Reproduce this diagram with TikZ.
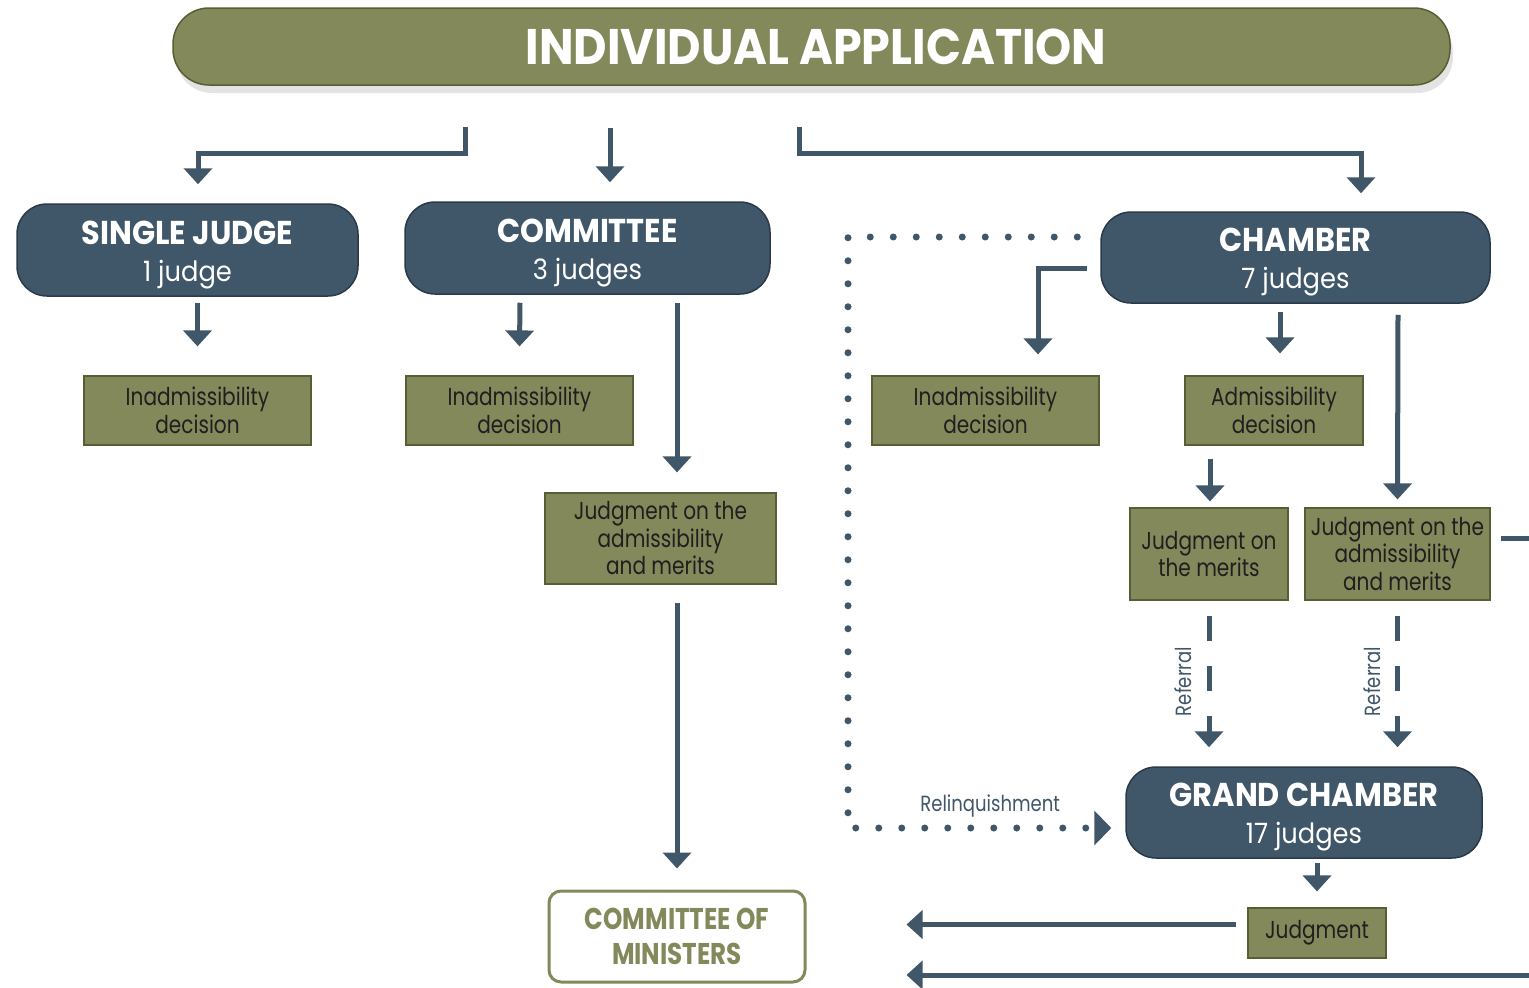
\documentclass[tikz,border=0pt]{standalone}
\usepackage{fontspec}
\setmainfont{Poppins}[FakeStretch=0.82]
\newfontfamily\widefont{Poppins}[FakeStretch=0.92]
\usepackage{tikz}
\usetikzlibrary{arrows.meta,shadows}
\usepackage{color}
\definecolor{olive}{RGB}{131,137,90}
\definecolor{olivedark}{RGB}{88,93,52}
\definecolor{slate}{RGB}{64,86,105}
\definecolor{slatedark}{RGB}{42,58,73}
\newcommand{\courttitle}[1]{\rule{0pt}{33pt}{\fontsize{33}{37}\selectfont\bfseries #1}}

\begin{document}
\begin{tikzpicture}[x=1pt,y=-1pt,
  court/.style={rectangle,rounded corners=30pt,draw=slatedark,line width=1.5pt,fill=slate,text=white,align=center,inner sep=0pt,font=\widefont\fontsize{28}{37}\selectfont},
  outcome/.style={rectangle,draw=olivedark,line width=1.2pt,fill=olive,text=black!88,align=center,inner sep=0pt,font=\fontsize{24.5}{27.5}\selectfont},
  flow/.style={draw=slate,line width=5pt,-{Triangle[width=28pt,length=16pt]}},
  referral/.style={flow,dash pattern=on 25pt off 25pt},
  relinq/.style={draw=slate,line width=7pt,line cap=round,dash pattern=on 0pt off 23pt,-{Triangle[width=34pt,length=17pt]}},
  note/.style={text=slate,inner sep=0pt,font=\fontsize{22}{25}\selectfont}]
\useasboundingbox (0,0) rectangle (1529,988);

% application banner
\node [rectangle,rounded corners=36pt,draw=olivedark,line width=1.5pt,fill=olive,
  drop shadow={shadow xshift=3pt,shadow yshift=-8pt,opacity=0.22},
  minimum width=1277pt,minimum height=77pt,text=white,
  font=\widefont\fontsize{50}{56}\selectfont\bfseries] (app) at (811.5,46.5) {\hspace{9pt}INDIVIDUAL APPLICATION};

% formations
\node [court,minimum width=341pt,minimum height=92pt] (sj) at (187.5,250) {\courttitle{SINGLE JUDGE}\\1 judge};
\node [court,minimum width=365pt,minimum height=92pt] (com) at (587.5,248) {\courttitle{COMMITTEE}\\3 judges};
\node [court,minimum width=389pt,minimum height=91pt] (ch) at (1295.5,257.5) {\courttitle{CHAMBER}\\7 judges};
\node [court,minimum width=356pt,minimum height=91pt] (gc) at (1304,812.5) {\courttitle{GRAND CHAMBER}\\17 judges};

% decisions
\node [outcome,minimum width=227pt,minimum height=69pt] (in1) at (197.5,410.5) {Inadmissibility\\decision};
\node [outcome,minimum width=227pt,minimum height=69pt] (in2) at (519.5,410.5) {Inadmissibility\\decision};
\node [outcome,minimum width=231pt,minimum height=91pt] (jam) at (660.5,538.5) {Judgment on the\\admissibility\\and merits};
\node [outcome,minimum width=227pt,minimum height=69pt] (in3) at (985.5,410.5) {Inadmissibility\\decision};
\node [outcome,minimum width=178pt,minimum height=69pt] (adm) at (1274,410.5) {Admissibility\\decision};
\node [outcome,minimum width=158pt,minimum height=92pt] (jm) at (1209,554) {Judgment on\\the merits};
\node [outcome,minimum width=185pt,minimum height=92pt] (jam2) at (1397.5,554) {Judgment on the\\admissibility\\and merits};
\node [outcome,minimum width=138pt,minimum height=50pt] (jud) at (1317,933) {Judgment};

\node [rectangle,rounded corners=12pt,draw=olive,line width=3pt,fill=white,text=olive,
  minimum width=256pt,minimum height=91pt,align=center,
  font=\fontsize{30}{35}\selectfont\bfseries] (cm) at (677,936.5) {COMMITTEE OF\\MINISTERS};

% free ends
\coordinate (s1) at (465,127);
\coordinate (s2) at (610,128);
\coordinate (s3) at (799,127);
\coordinate (rturn) at (848,237);
\coordinate (offr) at (1545,538);
\coordinate (offb) at (1545,975);

% allocation
\draw [flow] (s1) -- ++(0,26) -| ([xshift=10.5pt,yshift=19pt]sj.north);
\draw [flow] (s2) -- ([xshift=22.5pt,yshift=19pt]com.north);
\draw [flow] (s3) -- ++(0,26) -| ([xshift=65.5pt,yshift=18pt]ch.north);

\draw [flow] ([xshift=10pt,yshift=-6pt]sj.south) -- ([yshift=29pt]in1.north);
\draw [flow] ([xshift=-67.5pt,yshift=-8pt]com.south) -- ([yshift=29pt]in2.north);
\draw [flow] ([xshift=89.5pt,yshift=-8pt]com.south) -- ([xshift=16.5pt,yshift=20pt]jam.north);
\draw [flow] ([xshift=16.5pt,yshift=-18pt]jam.south) -- ([yshift=21pt]cm.north);

\draw [flow] ([xshift=-13pt,yshift=-10.5pt]ch.west) -| ([xshift=52.5pt,yshift=21pt]in3.north);
\draw [flow] ([xshift=-15.5pt,yshift=-8pt]ch.south) -- ([xshift=6pt,yshift=22pt]adm.north);
\draw [flow] ([xshift=102.5pt,yshift=-11pt]ch.south) -- ([yshift=8pt]jam2.north);
\draw [flow] ([xshift=-64pt,yshift=-13pt]adm.south) -- ([xshift=1pt,yshift=6pt]jm.north);

% referral and relinquishment
\draw [referral] ([yshift=-15pt]jm.south) -- node [note,midway,xshift=-26pt,rotate=90] (ref1) {Referral} ([xshift=-95pt,yshift=19pt]gc.north);
\draw [referral] ([yshift=-15pt]jam2.south) -- node [note,midway,xshift=-25pt,rotate=90] (ref2) {Referral} ([xshift=93.5pt,yshift=19pt]gc.north);
\draw [relinq] ([xshift=-23pt,yshift=20.5pt]ch.west) -- (rturn) |- node [note,pos=0.77,yshift=22pt] (rel) {Relinquishment} ([xshift=-14pt,yshift=-15.5pt]gc.west);

% judgments
\draw [flow] ([xshift=13pt,yshift=-4pt]gc.south) -- ([yshift=16pt]jud.north);
\draw [flow] ([xshift=-11pt,yshift=8.5pt]jud.west) -- ([xshift=100pt,yshift=12pt]cm.east);
\draw [flow] (offb) -- ([xshift=100pt,yshift=-38.5pt]cm.east);
\draw [draw=slate,line width=5pt] ([xshift=10pt,yshift=16pt]jam2.east) -- (offr);

\end{tikzpicture}
\end{document}
